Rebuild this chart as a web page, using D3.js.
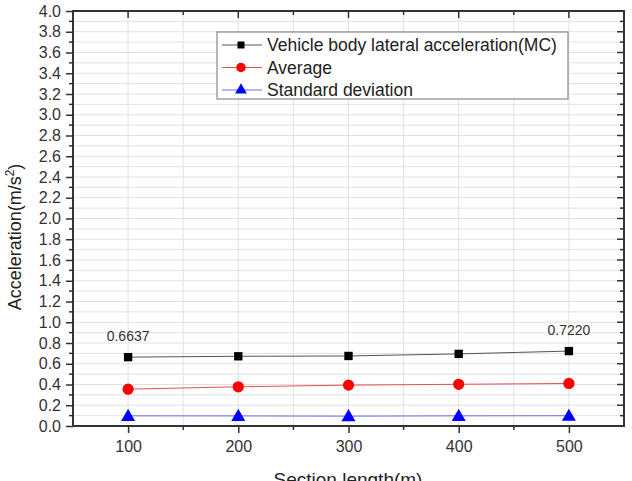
<!DOCTYPE html>
<html>
<head>
<meta charset="utf-8">
<title>Acceleration vs section length</title>
<script src="https://cdn.jsdelivr.net/npm/d3@7"></script>
<style>
  body { margin: 0; background: #fff; }
  text { font-family: "Liberation Sans", Arial, sans-serif; }
</style>
</head>
<body>
<svg width="632" height="481"></svg>
<script>
// data
var sections = [100, 200, 300, 400, 500];
var mcValues = [0.6637, 0.672, 0.675, 0.695, 0.7220];
var avgValues = [0.355, 0.378, 0.394, 0.402, 0.410];
var sdValues = [0.098, 0.097, 0.095, 0.098, 0.099];
var seriesNames = ["Vehicle body lateral acceleration(MC)", "Average", "Standard deviation"];
var xTicks = [100, 200, 300, 400, 500];
var yTicks = d3.range(0, 4.01, 0.2);

var svg = d3.select("svg");
var x = d3.scaleLinear().domain([50, 550]).range([73, 624]);
var y = d3.scaleLinear().domain([0, 4]).range([426, 11]);

var minorX = d3.range(50, 551, 50);
var minorY = d3.range(0, 4.001, 0.1);

// grid
svg.append("g").selectAll("line").data(minorY.slice(1)).enter().append("line")
  .attr("x1", x(50)).attr("x2", x(550))
  .attr("y1", d => y(d)).attr("y2", d => y(d))
  .style("stroke", "#e2e2e2").style("stroke-width", 1);
svg.append("g").selectAll("line").data(minorX.slice(1, -1)).enter().append("line")
  .attr("x1", d => x(d)).attr("x2", d => x(d))
  .attr("y1", y(0)).attr("y2", y(4))
  .style("stroke", "#e2e2e2").style("stroke-width", 1);

// axes (outer ticks on left/bottom, inner on right/top)
var axisCol = "#333";
var left = svg.append("g").attr("transform", "translate(" + x(50) + ",0)")
  .call(d3.axisLeft(y).tickValues(yTicks).tickFormat(d3.format(".1f")).tickSize(7).tickPadding(5));
var bottom = svg.append("g").attr("transform", "translate(0," + y(0) + ")")
  .call(d3.axisBottom(x).tickValues(xTicks).tickSize(7).tickPadding(8));
[left, bottom].forEach(function (g) {
  g.select(".domain").remove();
  g.selectAll("line").style("stroke", axisCol).style("stroke-width", 1.5);
  g.selectAll("text").style("font-size", "16px").style("fill", "#333")
    .style("font-family", '"Liberation Sans", Arial, sans-serif');
});

// minor ticks
svg.append("g").selectAll("line").data(minorY.filter((d, i) => i % 2 == 1)).enter().append("line")
  .attr("x1", x(50) - 4).attr("x2", x(50)).attr("y1", d => y(d)).attr("y2", d => y(d))
  .style("stroke", axisCol).style("stroke-width", 1.5);
svg.append("g").selectAll("line").data([150, 250, 350, 450]).enter().append("line")
  .attr("x1", d => x(d)).attr("x2", d => x(d)).attr("y1", y(0)).attr("y2", y(0) + 4)
  .style("stroke", axisCol).style("stroke-width", 1.5);
svg.append("g").selectAll("line").data(minorY.slice(1, -1)).enter().append("line")
  .attr("x1", (d, i) => x(550) - (i % 2 == 1 ? 7 : 4)).attr("x2", x(550))
  .attr("y1", d => y(d)).attr("y2", d => y(d))
  .style("stroke", axisCol).style("stroke-width", 1.5);
svg.append("g").selectAll("line").data(d3.range(100, 501, 50)).enter().append("line")
  .attr("x1", d => x(d)).attr("x2", d => x(d)).attr("y1", y(4))
  .attr("y2", (d, i) => y(4) + (i % 2 == 0 ? 7 : 4))
  .style("stroke", axisCol).style("stroke-width", 1.5);

// frame
svg.append("rect").attr("x", x(50)).attr("y", y(4))
  .attr("width", x(550) - x(50)).attr("height", y(0) - y(4))
  .style("fill", "none").style("stroke", axisCol).style("stroke-width", 2);

// axis titles
svg.append("text").attr("x", 348).attr("y", 486).attr("text-anchor", "middle")
  .style("font-size", "19px").style("fill", "#222").text("Section length(m)");
var yt = svg.append("text").attr("transform", "translate(21,237) rotate(-90)")
  .attr("text-anchor", "middle").style("font-size", "18px").style("fill", "#222");
yt.append("tspan").text("Acceleration(m/s");
yt.append("tspan").attr("dy", -7).style("font-size", "12px").text("2");
yt.append("tspan").attr("dy", 7).text(")");

// series
var series = [
  { name: seriesNames[0], values: mcValues, line: "#555", fill: "#000", shape: d3.symbolSquare, size: 70 },
  { name: seriesNames[1], values: avgValues, line: "#e85050", fill: "#ff0000", shape: d3.symbolCircle, size: 100 },
  { name: seriesNames[2], values: sdValues, line: "#7070e0", fill: "#0000ff", shape: d3.symbolTriangle, size: 85 }
];
var line = d3.line().x(d => x(d[0])).y(d => y(d[1]));
series.forEach(function (s) {
  var pts = sections.map((v, i) => [v, s.values[i]]);
  svg.append("path").datum(pts).attr("d", line)
    .style("fill", "none").style("stroke", s.line).style("stroke-width", 1);
  svg.append("g").selectAll("path").data(pts).enter().append("path")
    .attr("transform", d => "translate(" + x(d[0]) + "," + (y(d[1]) + (s.shape == d3.symbolTriangle ? 1 : 0)) + ")")
    .attr("d", d3.symbol().type(s.shape).size(s.size))
    .style("fill", s.fill);
});

// value labels
var labeled = [[sections[0], mcValues[0]], [sections[4], mcValues[4]]];
svg.selectAll(".vlabel").data(labeled).enter().append("text").attr("class", "vlabel")
  .attr("x", d => x(d[0])).attr("y", d => y(d[1]) - 16).attr("text-anchor", "middle")
  .style("font-size", "14px").style("fill", "#333").text(d => d[1].toFixed(4));

// legend
var lg = svg.append("g");
lg.append("rect").attr("x", 217).attr("y", 32).attr("width", 351).attr("height", 67)
  .style("fill", "#fff").style("stroke", "#888").style("stroke-width", 1.2);
series.forEach(function (s, i) {
  var cy = 45 + i * 22.5;
  lg.append("line").attr("x1", 222).attr("x2", 262).attr("y1", cy).attr("y2", cy)
    .style("stroke", s.line).style("stroke-width", 1);
  lg.append("path").attr("transform", "translate(241," + cy + ")")
    .attr("d", d3.symbol().type(s.shape).size(s.size * 0.7)).style("fill", s.fill);
  lg.append("text").attr("x", 267).attr("y", cy + 6).style("font-size", "17.5px")
    .style("fill", "#222").text(s.name);
});
</script>
</body>
</html>
